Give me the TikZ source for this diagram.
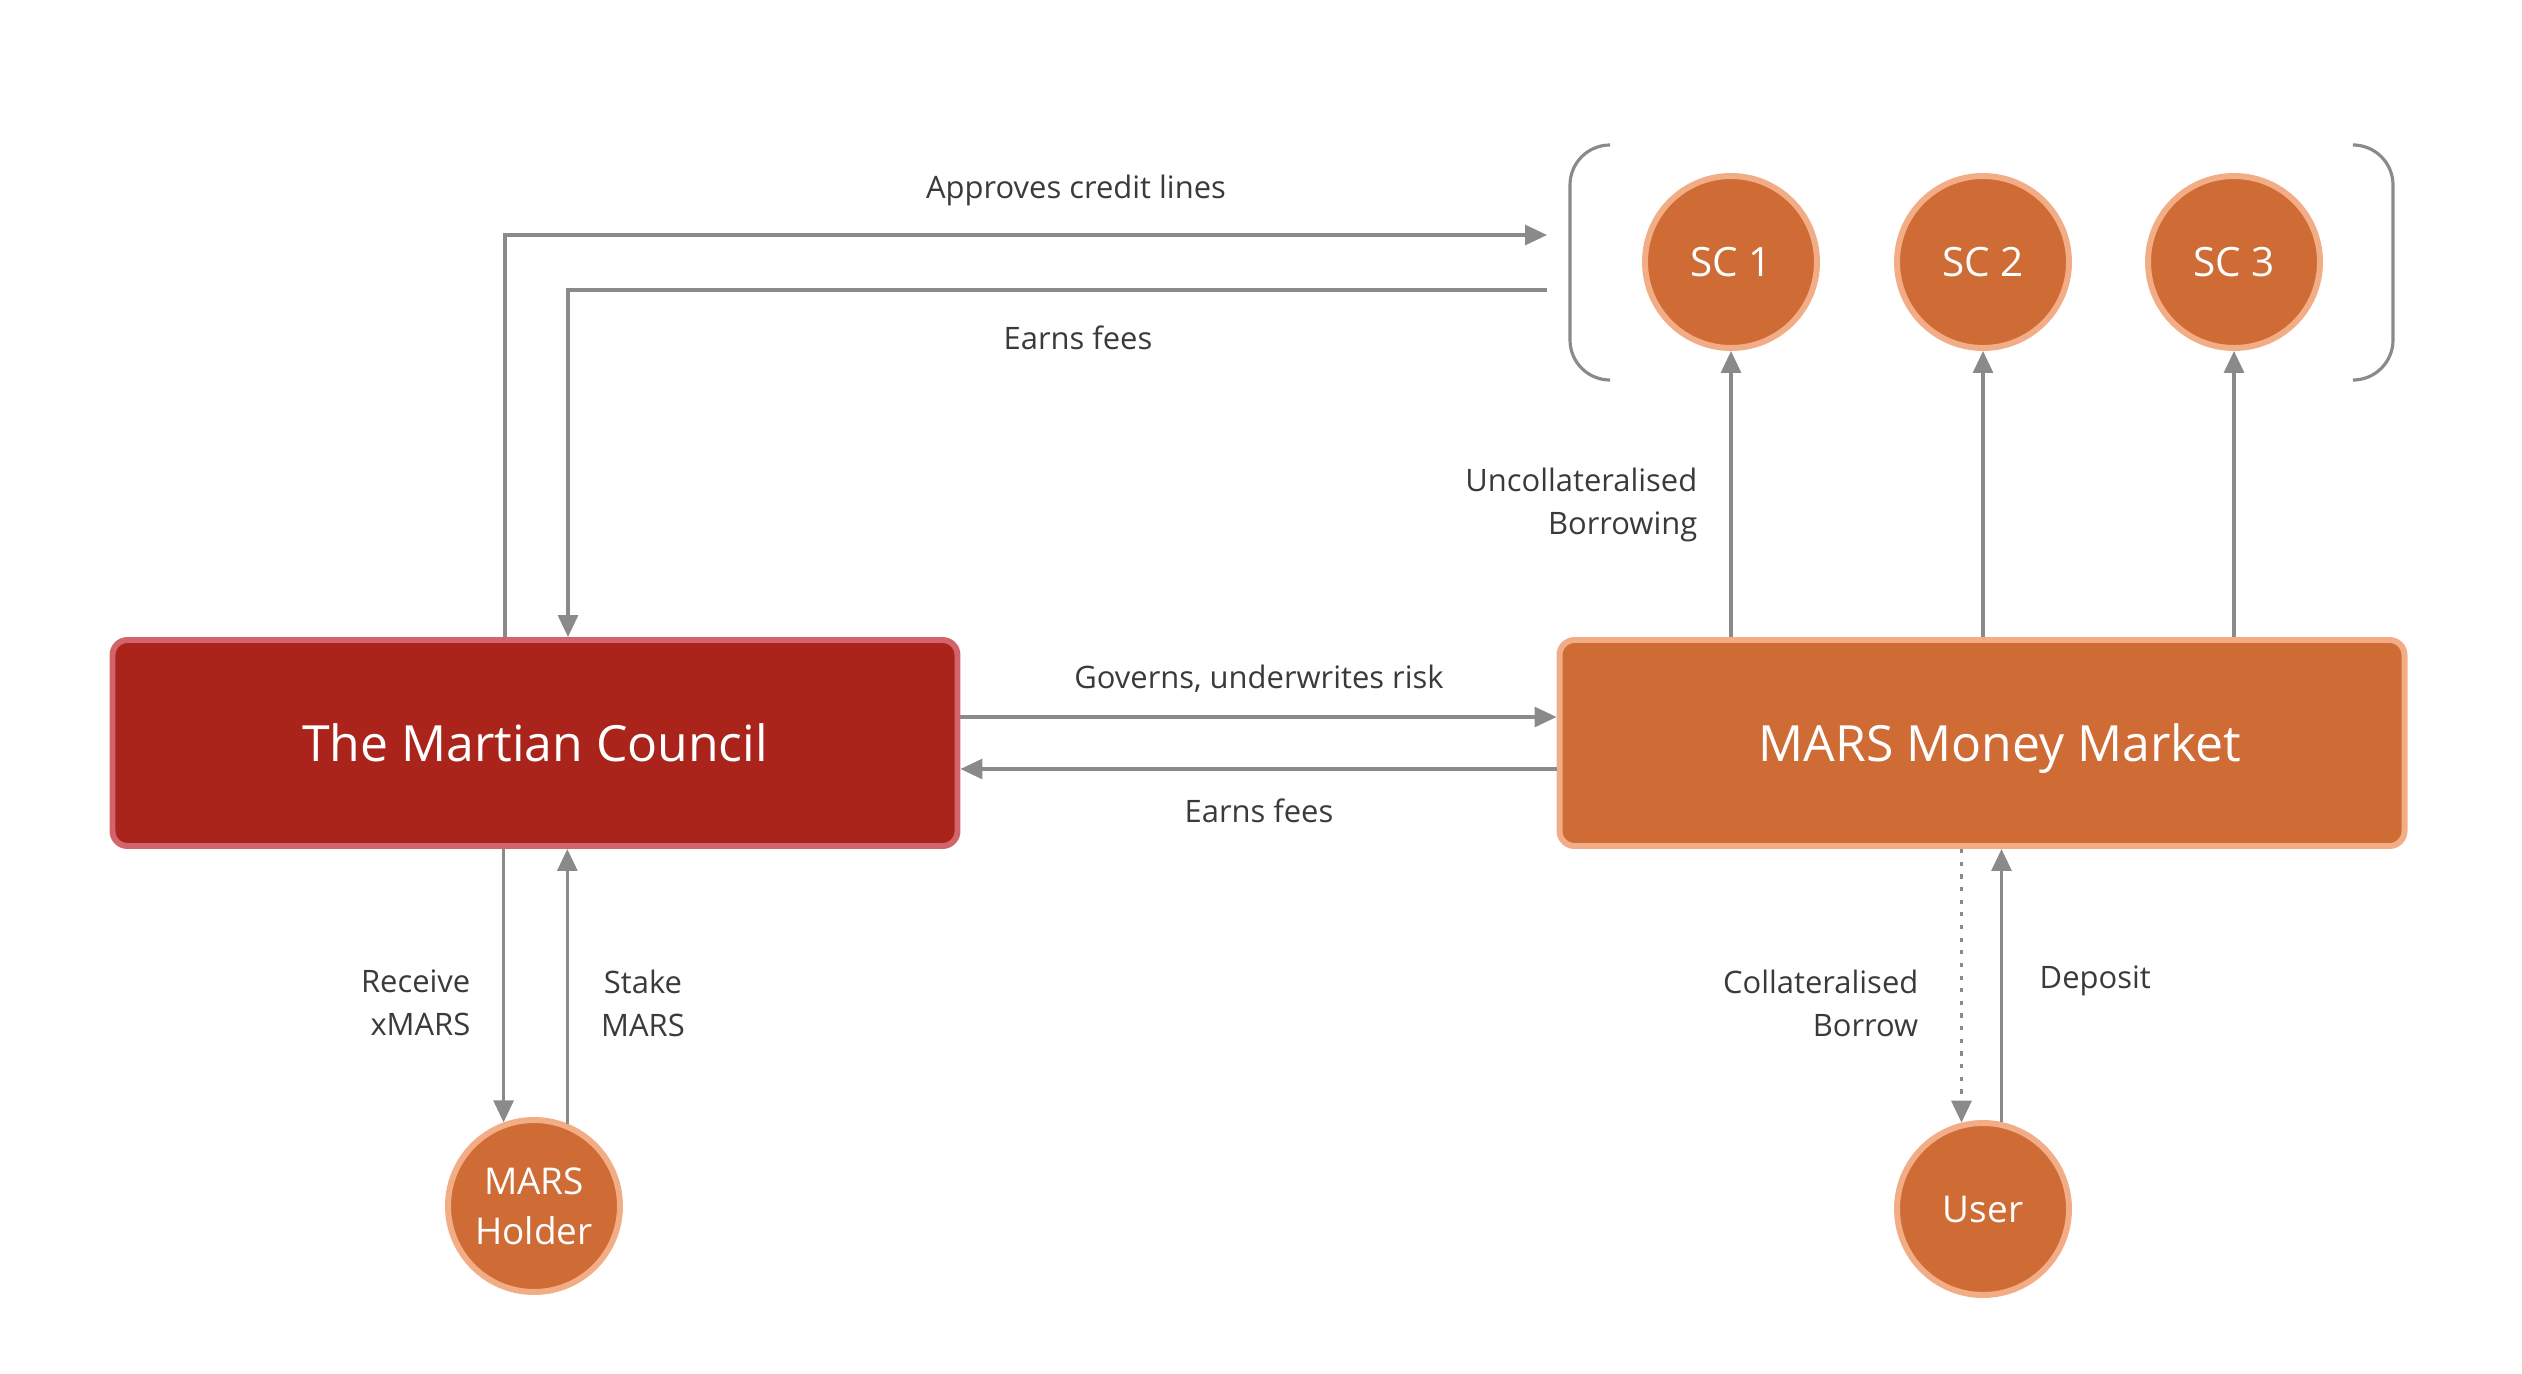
\documentclass[tikz,border=0pt]{standalone}
\usepackage{fontspec}
\setmainfont{Open Sans}
\usepackage{xcolor}
\usetikzlibrary{arrows.meta}
\definecolor{marsred}{HTML}{AA241C}
\definecolor{marsredline}{HTML}{D2656B}
\definecolor{marsorange}{HTML}{CF6B35}
\definecolor{marsorangeline}{HTML}{F2AD86}
\definecolor{flowgray}{HTML}{8A8A8A}
\definecolor{labelgray}{HTML}{3A3A3A}

\begin{document}
\begin{tikzpicture}[
  flow/.style={draw=flowgray,line width=0.9pt,-{Triangle[length=2.2mm,width=2mm]}},
  brace/.style={draw=flowgray,line width=0.9pt,rounded corners=0.4cm},
  redbox/.style={rectangle,rounded corners=0.15cm,fill=marsred,draw=marsredline,line width=1.7pt,minimum width=8.45cm,minimum height=2.06cm,text depth=0pt,text=white,font=\fontsize{14.2}{17}\selectfont},
  orangebox/.style={redbox,fill=marsorange,draw=marsorangeline},
  actor/.style={circle,fill=marsorange,draw=marsorangeline,line width=1.7pt,minimum size=1.72cm,inner sep=0pt,text=white,align=center,font=\fontsize{10.5}{14.2}\selectfont},
  sc/.style={actor,font=\fontsize{11.5}{14}\selectfont},
  flowlabel/.style={inner sep=0pt,text=labelgray,font=\fontsize{8.8}{12.2}\selectfont}
]
  \useasboundingbox (0,0) rectangle (25.22,-13.74);
  \node[redbox] (council) at (5.35,-7.43) {The Martian Council};
  \node[orangebox] (market) at (19.82,-7.43) {\hspace*{0.36cm}MARS Money Market};
  \node[sc] (sc1) at (17.31,-2.62) {SC 1};
  \node[sc] (sc2) at (19.83,-2.62) {SC 2};
  \node[sc] (sc3) at (22.34,-2.62) {SC 3};
  \node[actor] (holder) at (5.34,-12.06) {MARS\\Holder};
  \node[actor] (user) at (19.83,-12.09) {User};
  \coordinate (approve) at (15.47,-2.35);
  \coordinate (fees) at (15.47,-2.90);
  \draw[brace] (16.08,-1.45) -- (15.70,-1.45) -- (15.70,-3.80) -- (16.08,-3.80);
  \draw[brace] (23.56,-1.45) -- (23.93,-1.45) -- (23.93,-3.80) -- (23.56,-3.80);
  \draw[flow] ([xshift=-0.3cm]council.north) |- (approve);
  \draw[flow] (fees) -| ([xshift=0.33cm]council.north);
  \draw[flow] ([yshift=0.26cm]council.east) -- ([yshift=0.26cm]market.west);
  \draw[flow] ([yshift=-0.26cm]market.west) -- ([yshift=-0.26cm]council.east);
  \draw[flow] (market.north -| sc1) -- (sc1);
  \draw[flow] (market.north -| sc2) -- (sc2);
  \draw[flow] (market.north -| sc3) -- (sc3);
  \draw[flow] (council.south -| holder.110) -- (holder.110);
  \draw[flow] (holder.68) -- (council.south -| holder.68);
  \draw[flow,dash pattern=on 1.2pt off 2.4pt] (market.south -| user.104) -- (user.104);
  \draw[flow] (user.78) -- (market.south -| user.78);
  \node[flowlabel] (approvetext) at (10.76,-1.90) {Approves credit lines};
  \node[flowlabel] (feestext) at (10.78,-3.38) {Earns fees};
  \node[flowlabel] (governtext) at (12.59,-6.79) {Governs, underwrites risk};
  \node[flowlabel] (markettext) at (12.59,-8.11) {Earns fees};
  \node[flowlabel,anchor=east,align=right] (uncoltext) at (16.98,-5.05) {Uncollateralised\\Borrowing};
  \node[flowlabel,anchor=east,align=right] (receivetext) at (4.71,-10.03) {Receive\\xMARS};
  \node[flowlabel,align=center] (staketext) at (6.43,-10.03) {Stake\\MARS};
  \node[flowlabel,anchor=east,align=right] (coltext) at (19.19,-10.03) {Collateralised\\Borrow};
  \node[flowlabel,anchor=west] (deposittext) at (20.39,-9.81) {Deposit};
\end{tikzpicture}
\end{document}
